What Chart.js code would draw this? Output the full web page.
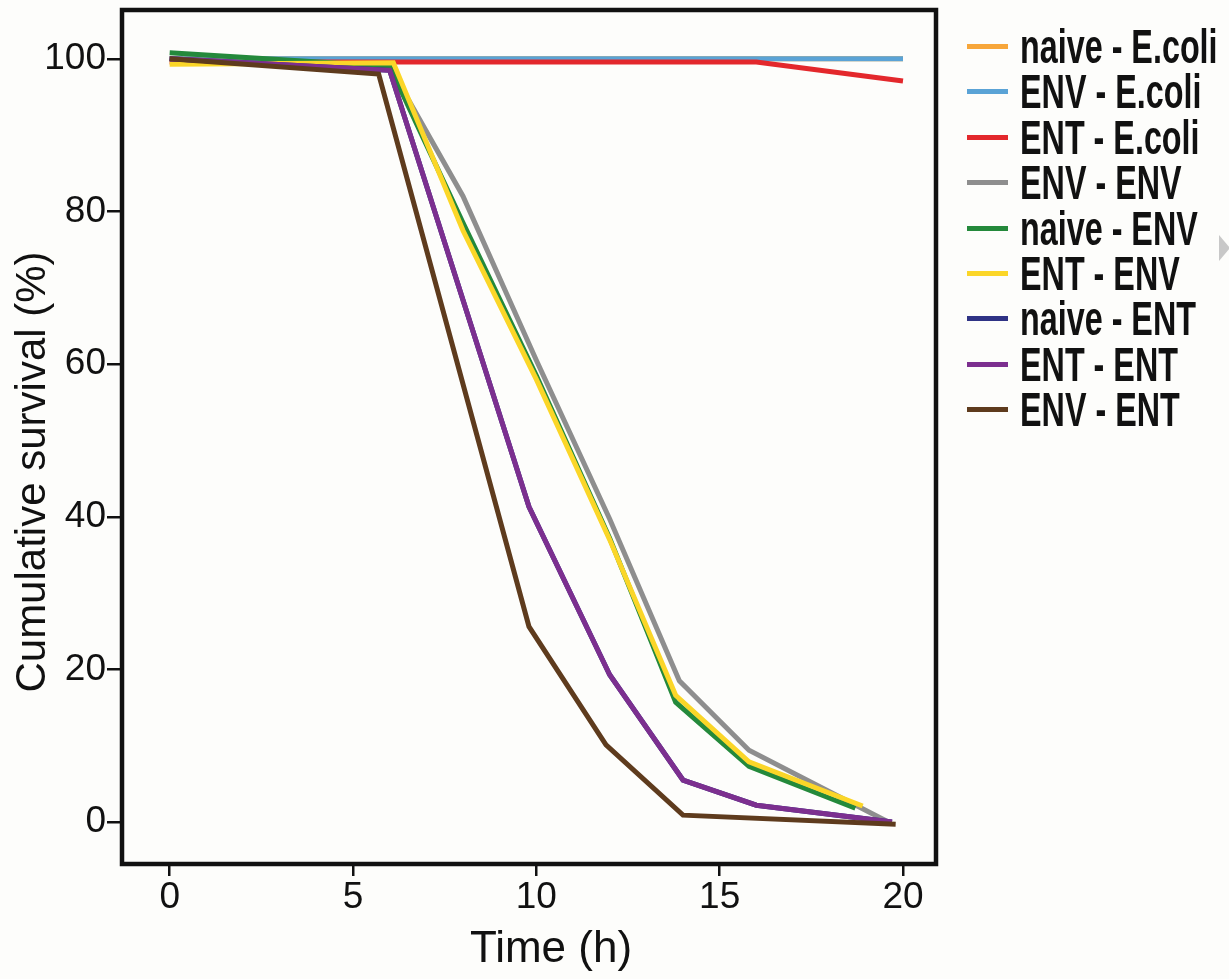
<!DOCTYPE html>
<html>
<head>
<meta charset="utf-8">
<script src="https://cdn.jsdelivr.net/npm/chart.js@4.4.0/dist/chart.umd.min.js"></script>
<style>
  html, body { margin: 0; padding: 0; background: #fdfdfb; }
  #wrap { position: relative; width: 1229px; height: 979px; overflow: hidden; }
  #legend { position: absolute; left: 965px; top: 24px; }
  .row { position: relative; height: 45.4px; }
  .row .swatch { position: absolute; left: 2px; top: 20px; width: 41px; height: 5px; }
  .row .lbl { position: absolute; left: 55px; top: 0; white-space: nowrap;
    font-family: "Liberation Sans", Arial, sans-serif;
    font-weight: bold; font-size: 40px; line-height: 45px; color: #111;
    transform-origin: left center; }
  #flecha { position: absolute; left: 1219px; top: 235px; width: 0; height: 0;
    border-top: 13px solid transparent; border-bottom: 13px solid transparent;
    border-left: 11px solid #c8c8c8; }
</style>
</head>
<body>
<div id="wrap">
  <canvas id="survChart" width="1229" height="979"></canvas>
  <div id="legend"></div>
  <div id="flecha"></div>
</div>
<script>
// Supervivencia acumulada (%) frente al tiempo (h)
const seriesNames = ['naive - E.coli', 'ENV - E.coli', 'ENT - E.coli', 'ENV - ENV', 'naive - ENV',
                     'ENT - ENV', 'naive - ENT', 'ENT - ENT', 'ENV - ENT'];
const seriesColors = ['#f7a63a', '#5aa3d6', '#e3282c', '#8e8e8e', '#24893b',
                      '#fbd628', '#2f3385', '#7c2f8f', '#5e3b1d'];

const naiveEcoliX = [0, 6, 8, 10, 12, 14, 16, 20];
const naiveEcoliY = [100, 100, 100, 100, 100, 100, 100, 100];
const envEcoliX = [0, 6, 8, 10, 12, 14, 16, 20];
const envEcoliY = [100, 100, 100, 100, 100, 100, 100, 100];
const entEcoliX = [0, 6, 8, 10, 12, 14, 16, 20];
const entEcoliY = [99.6, 99.6, 99.6, 99.6, 99.6, 99.6, 99.6, 97.1];
const envEnvX = [0, 6, 8, 10, 12, 13.9, 15.8, 19.6];
const envEnvY = [100, 99, 82, 60.5, 39.7, 18.5, 9.4, 0];
const naiveEnvX = [0, 6, 8, 10, 12, 13.8, 15.8, 18.7];
const naiveEnvY = [100.8, 99, 78.5, 58.5, 37.2, 15.7, 7.3, 1.8];
const entEnvX = [0, 6.1, 8, 10, 12, 13.8, 15.8, 18.9];
const entEnvY = [99.3, 99.5, 77.5, 58, 37, 16.6, 7.9, 2.1];
const naiveEntX = [0, 6, 9.8, 12, 14, 16, 19.7];
const naiveEntY = [100, 98.5, 41.3, 19.3, 5.5, 2.2, 0];
const entEntX = [0, 6, 9.8, 12, 14, 16, 19.7];
const entEntY = [100, 98.5, 41.3, 19.3, 5.5, 2.2, 0];
const envEntX = [0, 5.7, 9.8, 11.9, 14, 19.8];
const envEntY = [100, 98, 25.6, 10.1, 0.9, -0.3];

const seriesX = [naiveEcoliX, envEcoliX, entEcoliX, envEnvX, naiveEnvX, entEnvX, naiveEntX, entEntX, envEntX];
const seriesY = [naiveEcoliY, envEcoliY, entEcoliY, envEnvY, naiveEnvY, entEnvY, naiveEntY, entEntY, envEntY];

const xTicks = [0, 5, 10, 15, 20];
const yTicks = [0, 20, 40, 60, 80, 100];
const xTitle = 'Time (h)';
const yTitle = 'Cumulative survival (%)';

const fam = '"Liberation Sans", Arial, sans-serif';
const tickFont = { family: fam, size: 37 };

// marco negro y títulos de los ejes
const marco = {
    id: 'marco',
    afterDraw(chart) {
        const a = chart.chartArea;
        const ctx = chart.ctx;
        ctx.save();
        ctx.strokeStyle = '#111';
        ctx.lineWidth = 4.5;
        ctx.strokeRect(a.left, a.top, a.right - a.left, a.bottom - a.top);
        ctx.fillStyle = '#111';
        ctx.font = '44px ' + fam;
        ctx.textAlign = 'center';
        ctx.textBaseline = 'middle';
        ctx.fillText(xTitle, 551, 950);
        ctx.font = '42px ' + fam;
        ctx.translate(33, 472);
        ctx.rotate(-Math.PI / 2);
        ctx.fillText(yTitle, 0, 0);
        ctx.restore();
    }
};

const datasets = seriesNames.map((name, i) => ({
    label: name,
    data: seriesX[i].map((x, j) => ({ x: x, y: seriesY[i][j] })),
    borderColor: seriesColors[i],
    borderWidth: 5,
    pointRadius: 0,
    tension: 0,
    fill: false,
    order: seriesNames.length - i
}));

const ctx = document.getElementById('survChart').getContext('2d');
const chart = new Chart(ctx, {
    type: 'line',
    data: { datasets: datasets },
    options: {
        responsive: false,
        animation: false,
        layout: { padding: { top: 10, right: 293, left: 0, bottom: 0 } },
        plugins: { legend: { display: false }, tooltip: { enabled: false } },
        scales: {
            x: {
                type: 'linear',
                min: -1.3,
                max: 20.9,
                afterFit: s => { s.height = 115; s.paddingLeft = 0; s.paddingRight = 0; },
                afterBuildTicks: s => { s.ticks = xTicks.map(v => ({ value: v })); },
                border: { display: false },
                grid: { display: true, drawOnChartArea: false, drawTicks: true, tickLength: 12, color: '#111', lineWidth: 2.5 },
                ticks: { color: '#111', font: tickFont, padding: 0 }
            },
            y: {
                min: -5.5,
                max: 106.4,
                afterFit: s => { s.width = 122; s.paddingTop = 0; s.paddingBottom = 0; },
                afterBuildTicks: s => { s.ticks = yTicks.map(v => ({ value: v })); },
                border: { display: false },
                grid: { display: true, drawOnChartArea: false, drawTicks: true, tickLength: 15, color: '#111', lineWidth: 2.5 },
                ticks: { color: '#111', font: tickFont, padding: 1 }
            }
        }
    },
    plugins: [marco]
});

// leyenda
const legend = document.getElementById('legend');
seriesNames.forEach((name, i) => {
    const row = document.createElement('div');
    row.className = 'row';
    row.innerHTML = '<div class="swatch" style="background:' + seriesColors[i] + '"></div><div class="lbl">' + name + '</div>';
    legend.appendChild(row);
});
// comprimir el texto de la leyenda: "naive - E.coli" mide ~198 px en la figura
const labels = legend.querySelectorAll('.lbl');
const escalaX = 198 / labels[0].offsetWidth;
labels.forEach(l => { l.style.transform = 'scale(' + escalaX.toFixed(3) + ', 1.22)'; });
</script>
</body>
</html>
